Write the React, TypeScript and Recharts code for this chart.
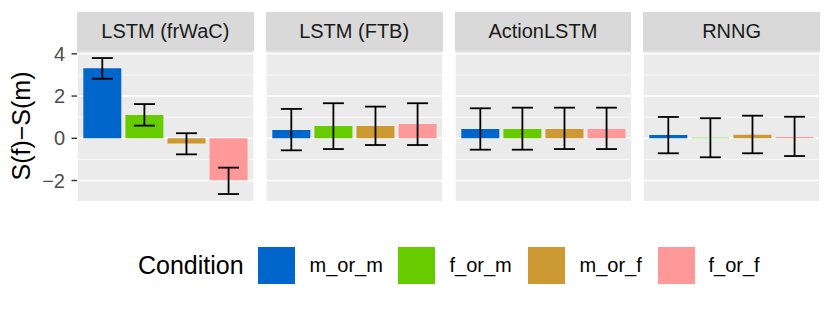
import React from "react";
import { BarChart, Bar, XAxis, YAxis, CartesianGrid, Cell, ErrorBar } from "recharts";

const facets = ["LSTM (frWaC)", "LSTM (FTB)", "ActionLSTM", "RNNG"];
const conditions = ["m_or_m", "f_or_m", "m_or_f", "f_or_f"];
const colors = ["#0066CC", "#66CC00", "#CC9933", "#FF9999"];

const frwacMean = [3.32, 1.1, -0.25, -1.99];
const frwacLow = [2.82, 0.6, -0.76, -2.64];
const frwacHigh = [3.8, 1.62, 0.24, -1.39];

const ftbMean = [0.39, 0.58, 0.58, 0.68];
const ftbLow = [-0.57, -0.51, -0.32, -0.32];
const ftbHigh = [1.39, 1.66, 1.5, 1.66];

const actionMean = [0.44, 0.44, 0.44, 0.44];
const actionLow = [-0.54, -0.54, -0.51, -0.51];
const actionHigh = [1.42, 1.45, 1.45, 1.45];

const rnngMean = [0.16, 0.03, 0.17, 0.06];
const rnngLow = [-0.71, -0.9, -0.71, -0.84];
const rnngHigh = [1.01, 0.95, 1.07, 1.02];

const yTicks = [-2, 0, 2, 4];
const yMinor = [-1, 1, 3];
const yDomain: [number, number] = [-2.97, 4.11];
const yTitle = "S(f)\u2212S(m)";
const legendTitle = "Condition";

const series = [
  { mean: frwacMean, low: frwacLow, high: frwacHigh },
  { mean: ftbMean, low: ftbLow, high: ftbHigh },
  { mean: actionMean, low: actionLow, high: actionHigh },
  { mean: rnngMean, low: rnngLow, high: rnngHigh },
];

const buildData = (s: { mean: number[]; low: number[]; high: number[] }) =>
  conditions.map((c, i) => ({
    cond: c,
    value: s.mean[i],
    err: [s.mean[i] - s.low[i], s.high[i] - s.mean[i]],
  }));

const FONT = '"Liberation Sans", Arial, Helvetica, sans-serif';
const PANEL_LEFT = [77, 265.75, 454.5, 643.25];
const PANEL_W = 176.75;
const Y_AXIS_W = 77;
const CHART_TOP = 40;
const MARGIN_TOP = 11.5;
const PLOT_H = 149.5;
const MARGIN_BOTTOM = 9;

const fmt = (v: number) => (v < 0 ? "\u2212" + Math.abs(v) : String(v));

function Facet({ index }: { index: number }) {
  const showY = index === 0;
  const data = buildData(series[index]);
  return (
    <div style={{ position: "absolute", left: showY ? 0 : PANEL_LEFT[index], top: CHART_TOP }}>
      <BarChart
        width={showY ? Y_AXIS_W + PANEL_W : PANEL_W}
        height={MARGIN_TOP + PLOT_H + MARGIN_BOTTOM}
        data={data}
        margin={{ top: MARGIN_TOP, right: 0, bottom: MARGIN_BOTTOM, left: 0 }}
        barCategoryGap="5%"
      >
        <CartesianGrid
          fill="#EBEBEB"
          stroke="#FFFFFF"
          strokeWidth={0.75}
          vertical={false}
          horizontalValues={yMinor}
        />
        <CartesianGrid stroke="#FFFFFF" strokeWidth={1.5} horizontalValues={yTicks} />
        <XAxis
          dataKey="cond"
          type="category"
          padding={{ left: 4.2, right: 4.2 }}
          height={0}
          tick={false}
          tickLine={false}
          axisLine={false}
        />
        <YAxis
          type="number"
          width={Y_AXIS_W}
          hide={!showY}
          domain={yDomain}
          ticks={yTicks}
          allowDataOverflow
          axisLine={false}
          tickSize={5.5}
          tickMargin={6.5}
          tickLine={{ stroke: "#333333", strokeWidth: 1.4 }}
          tick={{ fill: "#4D4D4D", fontSize: 20, fontFamily: FONT }}
          tickFormatter={fmt}
        />
        <Bar dataKey="value" isAnimationActive={false}>
          {data.map((d, i) => (
            <Cell key={d.cond} fill={colors[i]} />
          ))}
          <ErrorBar
            dataKey="err"
            direction="y"
            width={10.5}
            stroke="#000000"
            strokeWidth={1.8}
            isAnimationActive={false}
          />
        </Bar>
      </BarChart>
    </div>
  );
}

const legendKeyX = [257.5, 398, 527.5, 657.5];
const legendLabelX = [309.5, 449.5, 579.5, 708.5];

export default function App() {
  return (
    <div
      style={{
        position: "absolute",
        left: 0,
        top: 0,
        width: 830,
        height: 310,
        background: "#FFFFFF",
        fontFamily: FONT,
        overflow: "hidden",
      }}
    >
      {facets.map((f, i) => (
        <div
          key={"strip" + f}
          style={{
            position: "absolute",
            left: PANEL_LEFT[i],
            top: 12,
            width: PANEL_W,
            height: 39.5,
            background: "#D9D9D9",
            color: "#1A1A1A",
            fontSize: 20,
            lineHeight: "39.5px",
            textAlign: "center",
            whiteSpace: "nowrap",
          }}
        >
          {f}
        </div>
      ))}
      {facets.map((f, i) => (
        <Facet key={f} index={i} />
      ))}
      <div
        style={{
          position: "absolute",
          left: 20.5,
          top: 126,
          transform: "translate(-50%, -50%) rotate(-90deg)",
          fontSize: 25,
          color: "#000000",
          whiteSpace: "nowrap",
          lineHeight: 1,
        }}
      >
        {yTitle}
      </div>
      <div
        style={{
          position: "absolute",
          left: 138,
          top: 265,
          transform: "translateY(-50%)",
          fontSize: 25,
          color: "#000000",
          whiteSpace: "nowrap",
          lineHeight: 1,
        }}
      >
        {legendTitle}
      </div>
      {conditions.map((c, i) => (
        <React.Fragment key={"leg" + c}>
          <div
            style={{
              position: "absolute",
              left: legendKeyX[i],
              top: 246.5,
              width: 37,
              height: 37,
              background: colors[i],
            }}
          />
          <div
            style={{
              position: "absolute",
              left: legendLabelX[i],
              top: 265,
              transform: "translateY(-50%)",
              fontSize: 20,
              color: "#000000",
              whiteSpace: "nowrap",
              lineHeight: 1,
            }}
          >
            {c}
          </div>
        </React.Fragment>
      ))}
    </div>
  );
}
